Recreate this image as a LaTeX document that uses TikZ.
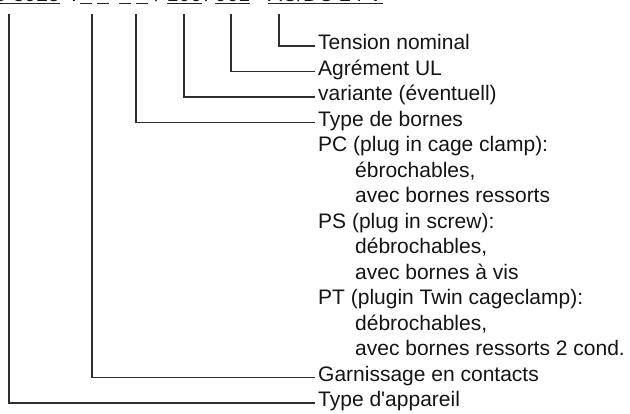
\documentclass[tikz,border=0pt]{standalone}
\usepackage{fontspec}
\setmainfont{Liberation Sans}[Ligatures=TeXOff]
\usetikzlibrary{arrows,positioning}

\tikzset{
  lbl/.style={anchor=west, inner xsep=3pt, inner ysep=0pt, text height=0.72em, text depth=0pt,
    font=\fontsize{21}{25}\selectfont, text=black!92},
  code/.style={anchor=base, inner sep=0pt, font=\fontsize{21}{25}\selectfont, text=black!92},
  lead/.style={black!82, line width=1.1pt},
  uline/.style={black!85, line width=1.2pt},
}

\begin{document}
\begin{tikzpicture}[x=1pt,y=-1pt]
\useasboundingbox (0,0) rectangle (630,414);
\clip (0,0) rectangle (630,414);

% type code, cut at the top
\node[code,anchor=base east] (typ) at (60,1.5) {LG 5925};
\node[code] (dot) at (74,1.5) {.};
\foreach \x [count=\i] in {86,103,125,142}
  \node[code] (ph\i) at (\x,1.5) {\phantom{0}};
\node[code] (sl1) at (158,1.5) {/};
\node[code] (var) at (184.5,1.5) {100};
\node[code] (sl2) at (208,1.5) {/};
\node[code] (app) at (232.5,1.5) {061};
\node[code,anchor=base west] (volt) at (268,1.5) {AC/DC 24 V};

\foreach \n in {typ,ph1,ph2,ph3,ph4,var,app,volt}
  \draw[uline] ([yshift=-2pt]\n.base west) -- ([yshift=-2pt]\n.base east);

% leads start
\coordinate (vtyp) at (9,14);
\coordinate (vgar) at (92,14);
\coordinate (vbor) at (136,14);
\coordinate (vvar) at (184,14);
\coordinate (vul) at (231,14);
\coordinate (vten) at (279,14);

% labels
\node[lbl] (tens) at (315,46) {Tension nominal};
\node[lbl] (agr) at (315,71.5) {Agrément UL};
\node[lbl] (vari) at (315,97) {variante (éventuell)};
\node[lbl] (born) at (315,122.5) {Type de bornes};
\node[lbl] (pc) at (315,148) {PC (plug in cage clamp):};
\node[lbl] (pc1) at (352,173.5) {ébrochables,};
\node[lbl] (pc2) at (352,199) {avec bornes ressorts};
\node[lbl] (ps) at (315,224.5) {PS (plug in screw):};
\node[lbl] (ps1) at (352,250) {débrochables,};
\node[lbl] (ps2) at (352,275.5) {avec bornes à vis};
\node[lbl] (pt) at (315,301) {PT (plugin Twin cageclamp):};
\node[lbl] (pt1) at (352,326.5) {débrochables,};
\node[lbl] (pt2) at (352,352) {avec bornes ressorts 2 cond.};
\node[lbl] (garn) at (315,377.5) {Garnissage en contacts};
\node[lbl] (appa) at (315,403) {Type d'appareil};

% leads
\draw[lead] (vten) |- (tens.west);
\draw[lead] (vul) |- (agr.west);
\draw[lead] (vvar) |- (vari.west);
\draw[lead] (vbor) |- (born.west);
\draw[lead] (vgar) |- (garn.west);
\draw[lead] (vtyp) |- (appa.west);
\end{tikzpicture}
\end{document}
